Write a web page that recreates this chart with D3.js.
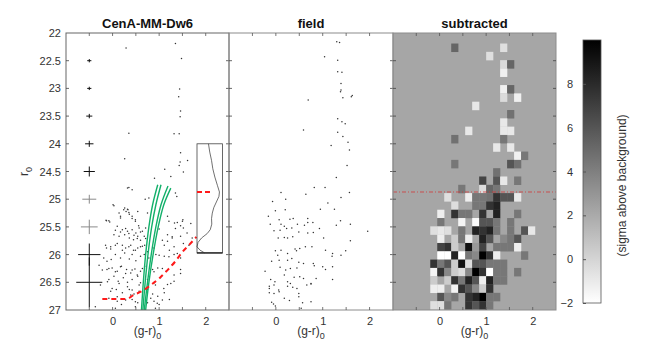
<!DOCTYPE html>
<html>
<head>
<meta charset="utf-8">
<script src="https://cdn.jsdelivr.net/npm/d3@7"></script>
<style>
  body { margin: 0; background: #fff; }
  text { font-family: "Liberation Sans", Arial, sans-serif; }
</style>
</head>
<body>
<div id="plot"></div>
<script>
// ---- data ----
// dwarf stars: [colour (g-r)0, magnitude r0]
const dwarfStars = [
  [0.29,22.27],[1.35,22.19],[1.48,22.46],[1.44,23.01],[1.42,23.15],[1.46,23.41],[1.45,23.51],
  [0.35,23.81],[1.32,23.82],[1.43,23.82],[0.26,24.27],[1.46,24.16],[1.45,24.33],[1.43,24.39],
  [1.61,24.30],[1.12,24.46],[1.25,24.59],[1.52,24.51],[0.90,24.62],
  [0.32,24.80],[0.42,24.83],[1.38,24.95],[0.01,25.10],[0.26,25.16],[0.33,25.19],[0.29,25.22],
  [0.54,25.22],[0.14,25.25],[0.17,25.31],[0.75,25.25],[-0.13,25.39],[-0.08,25.39],[0.36,25.27],
  [0.42,25.35],[0.49,25.37],[1.18,25.31],[1.21,25.40],[1.33,25.43],[1.50,25.40],[1.52,25.52],
  [1.68,25.44],[1.35,25.53],[0.10,25.49],[0.21,25.55],[0.32,25.58],[0.42,25.55],[0.50,25.61],
  [0.57,25.52],[0.64,25.58],[0.71,25.52],[1.00,25.54],[0.03,25.64],[0.14,25.67],[0.26,25.64],
  [0.36,25.70],[0.45,25.73],[0.54,25.67],[0.60,25.74],[0.68,25.67],[1.18,25.64],[1.28,25.70],
  [1.46,25.67],[1.60,25.61],[1.71,25.70],[-0.13,25.88],[-0.04,25.90],[0.06,25.83],[0.21,25.83],
  [0.28,25.88],[0.39,25.83],[0.45,25.92],[0.54,25.88],[0.60,25.86],[0.69,25.83],[0.89,25.88],
  [1.11,25.83],[1.22,25.92],[1.32,25.86],[1.52,25.80],[1.64,25.83],[-0.19,26.06],[-0.12,26.12],
  [-0.03,26.09],[0.06,26.00],[0.17,26.06],[0.26,25.97],[0.36,26.08],[0.42,26.00],[0.50,26.11],
  [0.60,26.03],[0.68,26.00],[0.78,26.06],[0.93,26.00],[1.11,26.03],[1.32,26.00],[1.46,26.06],
  [-0.12,26.27],[-0.01,26.24],[0.10,26.30],[0.19,26.21],[0.30,26.27],[0.39,26.33],[0.48,26.26],
  [0.60,26.30],[0.69,26.21],[0.86,26.27],[0.97,26.24],[1.15,26.30],[1.28,26.18],[1.46,26.27],
  [-0.08,26.45],[0.03,26.39],[0.12,26.48],[0.23,26.42],[0.32,26.50],[0.42,26.45],[0.54,26.39],
  [0.60,26.51],[0.75,26.45],[0.89,26.51],[1.03,26.42],[1.18,26.54],[1.32,26.48],[-0.04,26.66],
  [0.08,26.63],[0.21,26.69],[0.36,26.63],[0.46,26.71],[0.57,26.66],[0.75,26.63],[0.86,26.71],
  [0.97,26.75],[1.11,26.69],[0.10,26.84],[0.19,26.90],[0.42,26.81],[0.54,26.87],[0.75,26.87],
  [0.89,26.84],[1.00,26.90],[1.22,26.81],[-0.37,26.94],
  [0.35,24.79],[0.70,25.00],[0.78,24.98],[1.35,24.89],[0.03,25.12],[0.24,25.19],[0.32,25.18],
  [0.35,25.24],[-0.14,25.38],[-0.06,25.41],[0.17,25.34],[0.42,25.31],[0.49,25.40],[0.56,25.48],
  [1.39,25.42],[1.46,25.48],[1.51,25.37],[0.06,25.56],[0.17,25.59],[0.28,25.53],[0.35,25.62],
  [0.46,25.65],[0.53,25.71],[0.60,25.59],[0.71,25.71],[1.07,25.74],[1.18,25.76],[1.28,25.68],
  [-0.15,25.83],[-0.04,25.86],[0.10,25.80],[0.21,25.92],[0.35,25.86],[0.49,25.92],[0.64,25.85],
  [0.75,25.95],[1.00,26.01],[1.21,26.04],[1.39,25.98],[-0.29,26.19],[-0.22,26.28],[-0.08,26.25],
  [0.06,26.31],[0.17,26.22],[0.28,26.34],[0.42,26.28],[0.53,26.37],[0.64,26.25],[0.89,26.31],
  [1.07,26.25],[1.32,26.37],[1.46,26.34],[-0.26,26.55],[-0.11,26.49],[-0.01,26.61],[0.14,26.52],
  [0.32,26.58],[0.42,26.64],[0.57,26.55],[0.92,26.55],[1.10,26.61],[1.25,26.52],[-0.08,26.79],
  [0.10,26.76],[0.28,26.82],[0.39,26.73],[0.49,26.85],[0.82,26.79],[0.96,26.88],[1.07,26.82],
  [0.06,26.97],[0.49,26.94],[0.92,26.97]
];

// comparison field stars
const fieldStars = [
  [1.30,22.16],[1.36,22.17],[1.04,22.43],[1.32,22.49],[1.32,22.70],[1.41,22.71],[1.39,22.91],
  [1.39,23.03],[1.38,23.06],[1.43,23.17],[1.61,23.15],[1.63,23.13],[0.69,23.21],[1.32,23.55],
  [1.41,23.60],[1.48,23.64],[1.32,23.79],[1.43,23.87],[0.59,23.75],[1.54,23.97],[1.18,24.03],
  [1.57,24.11],[1.52,24.39],[1.29,24.61],[0.82,24.79],[1.05,24.79],[0.11,24.88],[0.64,24.91],
  [1.57,24.88],[0.21,25.00],[1.39,24.97],[-0.07,25.04],[1.11,25.07],[-0.01,25.21],[0.20,25.19],
  [0.95,25.18],[1.25,25.18],[-0.16,25.31],[0.07,25.37],[0.30,25.36],[0.37,25.35],[0.68,25.35],
  [0.68,25.42],[0.79,25.42],[1.38,25.39],[-0.12,25.45],[0.11,25.45],[0.18,25.49],[0.46,25.45],
  [0.61,25.47],[0.93,25.53],[1.29,25.47],[1.59,25.45],[-0.04,25.57],[0.09,25.56],[0.23,25.53],
  [0.34,25.52],[1.96,25.58],[0.05,25.70],[0.18,25.69],[0.25,25.70],[0.36,25.68],[0.49,25.59],
  [0.68,25.61],[0.80,25.60],[1.02,25.70],[1.59,25.75],[0.63,25.86],[0.77,25.86],[-0.01,25.93],
  [0.04,26.01],[0.11,25.92],[0.25,25.98],[0.41,25.90],[0.44,25.93],[0.51,25.89],[1.06,25.92],
  [1.21,25.98],[1.20,26.03],[1.39,26.01],[1.49,25.93],[-0.09,26.12],[0.07,26.10],[0.25,26.10],
  [0.34,26.07],[0.49,26.14],[0.59,26.16],[0.80,26.16],[0.82,26.20],[0.09,26.23],[0.21,26.28],
  [0.31,26.25],[0.45,26.24],[1.00,26.22],[1.06,26.27],[1.21,26.22],[-0.23,26.30],[0.18,26.37],
  [0.39,26.41],[0.51,26.40],[0.59,26.43],[-0.11,26.45],[-0.02,26.49],[0.25,26.49],[0.31,26.52],
  [0.86,26.43],[1.21,26.45],[0.75,26.53],[-0.14,26.57],[-0.04,26.55],[0.06,26.64],[-0.14,26.61],
  [0.36,26.59],[0.25,26.57],[0.45,26.61],[0.66,26.55],[0.75,26.52],[-0.14,26.69],[-0.04,26.70],
  [0.07,26.67],[0.49,26.70],[0.49,26.76],[0.18,26.79],[0.29,26.83],[0.57,26.87],[-0.09,26.86],
  [-0.05,26.89],[-0.01,26.93],[0.75,26.85],[0.54,26.97]
];

// photometric errors at colour -0.5
const errMag = [22.5, 23, 23.5, 24, 24.5, 25, 25.5, 26, 26.5];
const errColour = [0.045, 0.045, 0.065, 0.09, 0.12, 0.15, 0.18, 0.24, 0.28];
const errMagSize = [0.03, 0.03, 0.04, 0.055, 0.09, 0.08, 0.13, 0.2, 0.45];
const errIsGrey = [false, false, false, false, false, true, true, false, false];

// isochrones (colour, mag)
const isochrones = [
  [[0.62,27],[0.66,26.5],[0.71,26],[0.78,25.5],[0.86,25.1],[0.97,24.74]],
  [[0.65,27],[0.70,26.5],[0.76,26],[0.84,25.5],[0.93,25.1],[1.04,24.74]],
  [[0.68,27],[0.75,26.5],[0.83,26],[0.93,25.5],[1.04,25.1],[1.19,24.76]],
  [[0.71,27],[0.78,26.5],[0.87,26],[0.98,25.5],[1.10,25.1],[1.25,24.80]]
];

// 50% completeness limit
const limitColour = [-0.22, 0.30, 0.45, 0.65, 0.82, 1.00, 1.18, 1.35, 1.50, 1.65, 1.80];
const limitMag = [26.80, 26.80, 26.73, 26.65, 26.55, 26.43, 26.28, 26.12, 25.95, 25.82, 25.68];

// luminosity function in the inset
const lfMag = [24.0, 24.15, 24.3, 24.45, 24.6, 24.75, 24.87, 24.95, 25.05, 25.15, 25.25, 25.35, 25.45, 25.55, 25.62, 25.7, 25.78, 25.86, 25.92, 25.97];
const lfVal = [0.45, 0.50, 0.57, 0.62, 0.70, 0.80, 0.88, 0.86, 0.76, 0.66, 0.60, 0.57, 0.58, 0.52, 0.40, 0.18, 0.04, 0.0, 0.12, 0.30];
const trgbMag = 24.87;

// subtracted Hess diagram, [row, column, sigma]; bins of 0.15 mag
const binColour0 = -1.1, binMag0 = 22.04, binSize = 0.15;
const bgSigma = 2.2;
const heatCells = [
  [1,9,5.2],[1,16,-0.5],[2,14,-0.5],[3,16,-0.3],[3,17,5.2],[4,16,-1.3],
  [6,16,-1.3],[6,17,5.2],[7,16,-0.3],[7,18,-1.3],[8,12,-0.9],[9,17,4.7],[10,16,-0.9],
  [11,11,-0.9],[11,16,-0.9],[11,17,-0.9],[12,9,4.7],[12,16,4.4],[13,15,-0.9],[13,17,-0.9],
  [14,18,-1.3],[14,19,4.4],[15,9,4.4],[15,17,6.0],[15,18,4.7],[16,15,4.7],
  [17,13,6.8],[17,15,6.0],[17,16,-0.9],[17,18,4.4],
  [18,10,4.4],[18,13,-0.4],[18,14,5.2],[18,15,4.4],
  [19,8,-0.5],[19,11,-1.2],[19,12,4.4],[19,13,4.4],[19,14,4.7],[19,15,7.6],[19,16,6.0],[19,17,6.0],[19,18,-0.9],
  [20,9,-0.4],[20,12,4.4],[20,13,4.4],[20,14,7.6],[20,15,8.4],
  [21,7,-1.2],[21,9,7.6],[21,10,4.4],[21,11,4.4],[21,13,7.6],[21,15,8.4],[21,18,4.4],
  [22,7,4.4],[22,10,-1.5],[22,12,-1.8],[22,13,6.0],[22,14,6.0],[22,15,4.4],[22,17,4.4],
  [23,6,-0.5],[23,7,-0.9],[23,8,-0.5],[23,10,4.4],[23,12,8.4],[23,13,7.6],[23,14,8.4],[23,15,4.4],[23,17,4.4],[23,19,6.0],[23,20,-0.9],
  [24,7,-1.2],[24,9,0.4],[24,10,4.4],[24,11,-1.2],[24,13,8.4],[24,14,6.0],[24,16,3.6],[24,17,4.4],[24,18,6.0],
  [25,7,6.8],[25,8,7.6],[25,9,0.4],[25,11,9.2],[25,12,2.8],[25,13,6.8],[25,15,4.4],[25,16,4.4],[25,17,4.4],[25,18,-1.2],
  [26,7,-2],[26,8,-2],[26,9,8.4],[26,10,-2],[26,11,4.4],[26,12,3.6],[26,13,10],[26,14,7.6],[26,15,-1.2],[26,19,4.4],
  [27,6,7.6],[27,7,4.4],[27,8,6.0],[27,9,0.4],[27,10,9.2],[27,11,-0.4],[27,12,6.0],[27,13,6.0],[27,14,4.4],[27,15,4.4],[27,16,4.4],
  [28,6,-1.5],[28,7,7.6],[28,8,3.6],[28,9,0.4],[28,10,-0.4],[28,11,3.6],[28,12,10],[28,13,7.6],[28,14,-2],[28,15,4.4],[28,16,4.4],[28,18,4.4],
  [29,6,0.4],[29,8,0.4],[29,9,7.6],[29,10,4.4],[29,11,8.4],[29,12,6.0],[29,13,-1.2],[29,14,8.4],[29,15,4.4],[29,16,4.4],
  [30,6,-1.2],[30,7,-1.2],[30,9,-1.5],[30,10,7.6],[30,11,6.0],[30,12,3.6],[30,13,0.4],[30,14,7.6],
  [31,7,6.0],[31,8,3.6],[31,9,4.4],[31,11,7.6],[31,12,8.4],[31,13,10],[31,14,4.4],[31,15,4.4],
  [32,6,-0.5],[32,7,-0.5],[32,8,4.4],[32,11,7.6],[32,12,6.0],[32,13,7.6],[32,14,4.4]
];

const magTicks = d3.range(22, 27.01, 0.5);
const colourTicks = [-0.5, 0, 0.5, 1, 1.5, 2];
const colourLabels = [0, 1, 2];
const sigmaTicks = [-2, 0, 2, 4, 6, 8];
const titles = ["CenA-MM-Dw6", "field", "subtracted"];

// ---- layout ----
const width = 654, height = 349;
const plotTop = 33, plotBottom = 310;
const panelEdges = [[66, 229], [229, 393], [393, 556]];

const svg = d3.select("#plot").append("svg")
  .attr("width", width)
  .attr("height", height);

const y = d3.scaleLinear().domain([22, 27]).range([plotTop, plotBottom]);
const xs = panelEdges.map(e => d3.scaleLinear().domain([-1, 2.5]).range(e));
const sigmaColour = d3.scaleLinear().domain([-2, 10]).range(["#ffffff", "#000000"]);

// clip paths per panel
panelEdges.forEach((e, i) => {
  svg.append("clipPath").attr("id", "clip" + i)
    .append("rect")
    .attr("x", e[0]).attr("y", plotTop)
    .attr("width", e[1] - e[0]).attr("height", plotBottom - plotTop);
});

// ---- right panel: Hess diagram ----
const heat = svg.append("g").attr("clip-path", "url(#clip2)");
const xr = xs[2];
heat.append("rect")
  .attr("x", panelEdges[2][0]).attr("y", plotTop)
  .attr("width", panelEdges[2][1] - panelEdges[2][0]).attr("height", plotBottom - plotTop)
  .attr("fill", sigmaColour(bgSigma));

heat.selectAll("rect.cell")
  .data(heatCells)
  .join("rect")
  .attr("class", "cell")
  .attr("x", d => xr(binColour0 + d[1] * binSize))
  .attr("y", d => y(binMag0 + d[0] * binSize))
  .attr("width", d => xr(binColour0 + (d[1] + 1) * binSize) - xr(binColour0 + d[1] * binSize) + 0.2)
  .attr("height", d => y(binMag0 + (d[0] + 1) * binSize) - y(binMag0 + d[0] * binSize) + 0.2)
  .attr("fill", d => sigmaColour(d[2]));

heat.append("line")
  .attr("x1", panelEdges[2][0]).attr("x2", panelEdges[2][1])
  .attr("y1", y(trgbMag)).attr("y2", y(trgbMag))
  .attr("stroke", "#d23a3a")
  .attr("stroke-width", 0.8)
  .attr("stroke-dasharray", "4,2,1,2");

// ---- scatter panels ----
const xl = xs[0], xm = xs[1];
const leftG = svg.append("g").attr("clip-path", "url(#clip0)");
leftG.selectAll("circle")
  .data(dwarfStars)
  .join("circle")
  .attr("cx", d => xl(d[0]))
  .attr("cy", d => y(d[1]))
  .attr("r", 0.75)
  .attr("fill", "#333");

const midG = svg.append("g").attr("clip-path", "url(#clip1)");
midG.selectAll("circle")
  .data(fieldStars)
  .join("circle")
  .attr("cx", d => xm(d[0]))
  .attr("cy", d => y(d[1]))
  .attr("r", 0.75)
  .attr("fill", "#333");

// error crosses
const errs = leftG.append("g");
errMag.forEach((m, i) => {
  const c = errIsGrey[i] ? "#8a8a8a" : "#111";
  errs.append("line")
    .attr("x1", xl(-0.5 - errColour[i])).attr("x2", xl(-0.5 + errColour[i]))
    .attr("y1", y(m)).attr("y2", y(m))
    .attr("stroke", c).attr("stroke-width", 1);
  errs.append("line")
    .attr("x1", xl(-0.5)).attr("x2", xl(-0.5))
    .attr("y1", y(m - errMagSize[i])).attr("y2", y(m + errMagSize[i]))
    .attr("stroke", c).attr("stroke-width", 1);
});

// isochrones
const isoLine = d3.line().x(d => xl(d[0])).y(d => y(d[1])).curve(d3.curveCatmullRom);
leftG.selectAll("path.iso")
  .data(isochrones)
  .join("path")
  .attr("class", "iso")
  .attr("d", isoLine)
  .attr("fill", "none")
  .attr("stroke", "#12b06a")
  .attr("stroke-width", 1.4);

// completeness limit
const limitLine = d3.line().x(d => xl(d[0])).y(d => y(d[1])).curve(d3.curveMonotoneX);
leftG.append("path")
  .datum(limitColour.map((c, i) => [c, limitMag[i]]))
  .attr("d", limitLine)
  .attr("fill", "none")
  .attr("stroke", "#ff1a1a")
  .attr("stroke-width", 2)
  .attr("stroke-dasharray", "5,4");

// inset luminosity function
const insetX = d3.scaleLinear().domain([0, 1]).range([197, 222.5]);
const inset = svg.append("g");
inset.append("rect")
  .attr("x", insetX(0)).attr("y", y(24.0))
  .attr("width", insetX(1) - insetX(0)).attr("height", y(25.97) - y(24.0))
  .attr("fill", "#fff")
  .attr("stroke", "#444")
  .attr("stroke-width", 0.8);
inset.append("line")
  .attr("x1", insetX(0)).attr("x2", insetX(1))
  .attr("y1", y(25.97)).attr("y2", y(25.97))
  .attr("stroke", "#111").attr("stroke-width", 1.2);
inset.append("path")
  .datum(lfMag.map((m, i) => [lfVal[i], m]))
  .attr("d", d3.line().x(d => insetX(d[0])).y(d => y(d[1])))
  .attr("fill", "none")
  .attr("stroke", "#333")
  .attr("stroke-width", 0.7);
inset.append("line")
  .attr("x1", insetX(0)).attr("x2", insetX(0.6))
  .attr("y1", y(trgbMag)).attr("y2", y(trgbMag))
  .attr("stroke", "#ff1a1a")
  .attr("stroke-width", 2)
  .attr("stroke-dasharray", "5,3");

// ---- frames, ticks, labels ----
panelEdges.forEach((e, i) => {
  const x = xs[i];
  const g = svg.append("g");
  g.append("rect")
    .attr("x", e[0]).attr("y", plotTop)
    .attr("width", e[1] - e[0]).attr("height", plotBottom - plotTop)
    .attr("fill", "none")
    .attr("stroke", i === 0 ? "#666" : "#8c8c8c")
    .attr("stroke-width", 1);

  // x ticks top and bottom
  colourTicks.forEach(t => {
    g.append("line").attr("x1", x(t)).attr("x2", x(t)).attr("y1", plotTop).attr("y2", plotTop + 3)
      .attr("stroke", "#555").attr("stroke-width", 0.8);
    g.append("line").attr("x1", x(t)).attr("x2", x(t)).attr("y1", plotBottom).attr("y2", plotBottom - 3)
      .attr("stroke", "#555").attr("stroke-width", 0.8);
  });
  // y ticks both sides
  magTicks.slice(1, -1).forEach(t => {
    g.append("line").attr("x1", e[0]).attr("x2", e[0] + 3).attr("y1", y(t)).attr("y2", y(t))
      .attr("stroke", "#444").attr("stroke-width", 0.8);
    g.append("line").attr("x1", e[1]).attr("x2", e[1] - 3).attr("y1", y(t)).attr("y2", y(t))
      .attr("stroke", "#444").attr("stroke-width", 0.8);
  });

  // bottom tick labels
  g.append("g")
    .attr("transform", `translate(0,${plotBottom})`)
    .call(d3.axisBottom(x).tickValues(colourLabels).tickSize(0).tickPadding(7).tickFormat(d3.format("d")))
    .call(a => a.select(".domain").remove())
    .selectAll("text")
    .attr("font-size", 11)
    .attr("font-family", "Liberation Sans, Arial, sans-serif")
    .attr("fill", "#333");

  // title
  svg.append("text")
    .attr("x", (e[0] + e[1]) / 2)
    .attr("y", 28)
    .attr("text-anchor", "middle")
    .attr("font-weight", "bold")
    .attr("font-size", 13)
    .attr("fill", "#111")
    .text(titles[i]);

  // x label
  const xl2 = svg.append("text")
    .attr("x", (e[0] + e[1]) / 2)
    .attr("y", 335)
    .attr("text-anchor", "middle")
    .attr("font-size", 12)
    .attr("fill", "#333");
  xl2.append("tspan").text("(g-r)");
  xl2.append("tspan").attr("font-size", 9).attr("dy", 4).text("0");
});

// y axis labels on left panel
svg.append("g")
  .attr("transform", `translate(${panelEdges[0][0]},0)`)
  .call(d3.axisLeft(y).tickValues(magTicks).tickSize(0).tickPadding(5).tickFormat(d3.format("")))
  .call(a => a.select(".domain").remove())
  .selectAll("text")
  .attr("font-size", 11)
  .attr("font-family", "Liberation Sans, Arial, sans-serif")
  .attr("fill", "#333");

const ylab = svg.append("text")
  .attr("transform", `translate(28,${y(24.5)}) rotate(-90)`)
  .attr("text-anchor", "middle")
  .attr("font-size", 12)
  .attr("fill", "#333");
ylab.append("tspan").text("r");
ylab.append("tspan").attr("font-size", 9).attr("dy", 4).text("0");

// ---- colorbar ----
const cbX = 583, cbW = 18, cbTop = 40, cbBottom = 303;
const cbY = d3.scaleLinear().domain([-2, 10]).range([cbBottom, cbTop]);
const grad = svg.append("defs").append("linearGradient")
  .attr("id", "cbgrad").attr("x1", 0).attr("y1", 1).attr("x2", 0).attr("y2", 0);
grad.append("stop").attr("offset", 0).attr("stop-color", sigmaColour(-2));
grad.append("stop").attr("offset", 1).attr("stop-color", sigmaColour(10));
svg.append("rect")
  .attr("x", cbX).attr("y", cbTop)
  .attr("width", cbW).attr("height", cbBottom - cbTop)
  .attr("fill", "url(#cbgrad)")
  .attr("stroke", "#555").attr("stroke-width", 0.8);
svg.append("g")
  .attr("transform", `translate(${cbX},0)`)
  .call(d3.axisLeft(cbY).tickValues(sigmaTicks).tickSize(-3).tickPadding(10))
  .call(a => a.select(".domain").remove())
  .call(a => a.selectAll("line").attr("stroke", "#555"))
  .selectAll("text")
  .attr("font-size", 11)
  .attr("font-family", "Liberation Sans, Arial, sans-serif")
  .attr("fill", "#333");

svg.append("text")
  .attr("transform", `translate(626,${(cbTop + cbBottom) / 2 + 14}) rotate(-90)`)
  .attr("text-anchor", "middle")
  .attr("font-size", 12)
  .attr("fill", "#333")
  .text("(sigma above background)");
</script>
</body>
</html>
